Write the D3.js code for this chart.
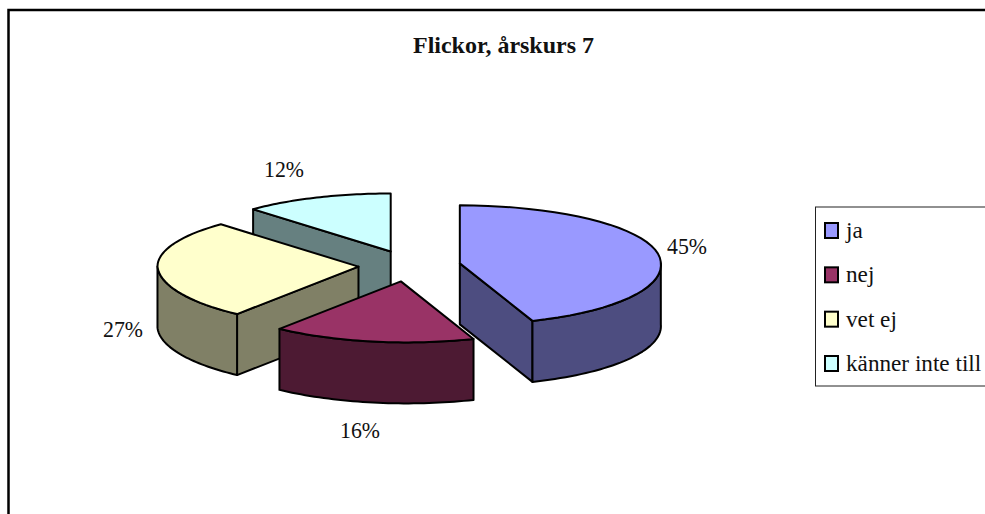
<!DOCTYPE html>
<html><head><meta charset="utf-8">
<style>html,body{margin:0;padding:0;background:#fff;overflow:hidden}svg{display:block}text{font-family:"Liberation Serif",serif;fill:#111}</style>
<script src="https://cdnjs.cloudflare.com/ajax/libs/d3/7.8.5/d3.min.js"></script></head><body>
<script>
const categories = ["ja","nej","vet ej","känner inte till"];
const values = [44.6,16.2,27.2,12.0];
const topColors = ["#9999FF","#993366","#FFFFCC","#CCFFFF"];
const wallColors = ["#4D4D80","#4D1A33","#808066","#668080"];
const title = "Flickor, årskurs 7";

const W=985,H=514;
const svg=d3.select("body").append("svg").attr("width",W).attr("height",H);
svg.append("rect").attr("x",8.5).attr("y",10).attr("width",W+20).attr("height",H+20)
  .attr("fill","#fff").attr("stroke","#000").attr("stroke-width",2.5);
svg.append("text").attr("x",503.5).attr("y",53).attr("text-anchor","middle")
  .attr("font-weight","bold").attr("font-size",23).attr("textLength",181).attr("lengthAdjust","spacingAndGlyphs").text(title);

const cx=409.5, cy=266, rx=201, ryBack=58, ryFront=61, depth=61, explode=0.254, shear=0.1;
const pie=d3.pie().sort(null).value(d=>d)(values);
const pt=(a)=>{const c=Math.cos(a), y=-(c>=0?ryBack:ryFront)*c; return [rx*Math.sin(a)+(y>0?shear*y:0), y];};
const slices=pie.map((p,i)=>{
  const mid=(p.startAngle+p.endAngle)/2;
  const o=[rx*explode*Math.sin(mid), -ryBack*explode*1.06*Math.cos(mid)];
  return {...p,i,ox:cx+o[0],oy:cy+o[1]};
});
const line=d3.line();
const arcPts=(s,a0,a1)=>d3.range(0,41).map(k=>{const a=a0+(a1-a0)*k/40,q=pt(a);return [s.ox+q[0],s.oy+q[1]];});
const chart=svg.append("g").attr("stroke","#000").attr("stroke-width",2).attr("stroke-linejoin","round");
[3,2,0,1].forEach(i=>{
  const s=slices[i], a0=s.startAngle, a1=s.endAngle, g=chart.append("g");
  const wall=(pts)=>g.append("path").attr("d",line(pts.concat(pts.slice().reverse().map(p=>[p[0],p[1]+depth])))+"Z").attr("fill",wallColors[i]);
  const apex=[s.ox,s.oy];
  const pa=pt(a0), pb=pt(a1);
  if(Math.sin(a0)<-1e-6) wall([apex,[s.ox+pa[0],s.oy+pa[1]]]);
  if(Math.sin(a1)>1e-6) wall([apex,[s.ox+pb[0],s.oy+pb[1]]]);
  const fa0=Math.max(a0,Math.PI/2), fa1=Math.min(a1,1.5*Math.PI);
  if(fa1>fa0) wall(arcPts(s,fa0,fa1));
  g.append("path").attr("d",line([apex].concat(arcPts(s,a0,a1)))+"Z").attr("fill",topColors[i]);
});

const pctLabels=[[687,254],[360,438],[123,337],[284,177]];
const fmt=d3.format(".0f");
values.forEach((v,i)=>svg.append("text").attr("x",pctLabels[i][0]).attr("y",pctLabels[i][1])
  .attr("text-anchor","middle").attr("font-size",22.5).attr("textLength",40).attr("lengthAdjust","spacingAndGlyphs").text(fmt(v)+"%"));

svg.append("rect").attr("x",815.5).attr("y",207).attr("width",W).attr("height",179).attr("fill","#fff").attr("stroke","#222").attr("stroke-width",1);
const rowY=d3.scalePoint().domain(categories).range([231,364]);
categories.forEach((c,i)=>{
  const y=rowY(c);
  svg.append("rect").attr("x",825).attr("y",y-8).attr("width",13).attr("height",15).attr("fill",topColors[i]).attr("stroke","#000").attr("stroke-width",2);
  svg.append("text").attr("x",846).attr("y",y+7).attr("font-size",23.2).text(c);
});
</script></body></html>
